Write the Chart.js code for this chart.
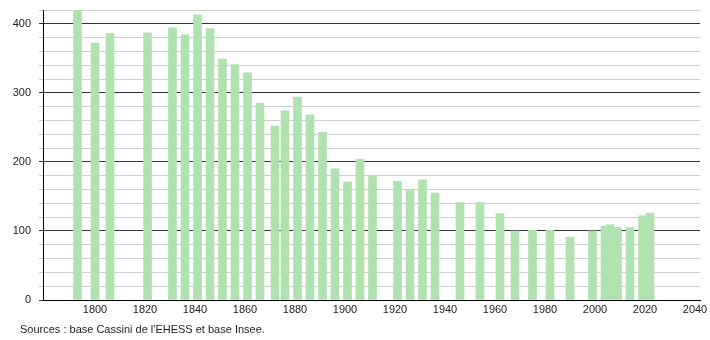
<!DOCTYPE html>
<html>
<head>
<meta charset="utf-8">
<script src="https://cdn.jsdelivr.net/npm/chart.js@4"></script>
<style>
    body { margin: 0; background: #fff; }
    .wrap { position: relative; width: 710px; height: 340px; }
    .source {
        position: absolute;
        left: 20px;
        top: 323px;
        font: 11px "Liberation Sans", Arial, sans-serif;
        color: #222;
    }
</style>
</head>
<body>
<div class="wrap">
    <canvas id="popChart" width="710" height="340"></canvas>
    <div class="source">Sources : base Cassini de l'EHESS et base Insee.</div>
</div>
<script>
// Census years and population
const years = [1793, 1800, 1806, 1821, 1831, 1836, 1841, 1846, 1851, 1856,
    1861, 1866, 1872, 1876, 1881, 1886, 1891, 1896, 1901, 1906,
    1911, 1921, 1926, 1931, 1936, 1946, 1954, 1962, 1968, 1975,
    1982, 1990, 1999, 2004, 2006, 2009, 2014, 2019, 2022];
const population = [420, 372, 386, 387, 394, 384, 413, 393, 349, 341,
    329, 285, 252, 274, 294, 268, 243, 190, 171, 204,
    179, 172, 159, 174, 155, 141, 141, 125, 100, 101,
    101, 91, 100, 107, 109, 105, 105, 122, 126];

// Axis ticks
const xTicks = [1800, 1820, 1840, 1860, 1880, 1900, 1920, 1940, 1960, 1980, 2000, 2020, 2040];
const yLabels = [0, 100, 200, 300, 400];

const font = { family: '"Liberation Sans", Arial, sans-serif', size: 11 };

document.addEventListener('DOMContentLoaded', () => {
    const ctx = document.getElementById('popChart').getContext('2d');

    new Chart(ctx, {
        type: 'bar',
        data: {
            datasets: [{
                data: years.map((y, i) => ({ x: y, y: population[i] })),
                backgroundColor: 'rgb(176, 226, 176)',
                barThickness: 8
            }]
        },
        options: {
            responsive: false,
            animation: false,
            layout: { padding: { top: 10, right: 10, left: 0, bottom: 0 } },
            plugins: {
                legend: { display: false },
                tooltip: { enabled: false }
            },
            scales: {
                x: {
                    type: 'linear',
                    offset: false,
                    min: 1779.2,
                    max: 2042,
                    afterBuildTicks: scale => {
                        scale.ticks = xTicks.map(v => ({ value: v }));
                    },
                    afterFit: scale => {
                        scale.height = 40;
                        scale.paddingLeft = 0;
                        scale.paddingRight = 0;
                    },
                    ticks: {
                        color: '#222',
                        font: font,
                        padding: 3,
                        maxRotation: 0,
                        autoSkip: false,
                        callback: v => String(v)
                    },
                    grid: { display: false, drawTicks: false },
                    border: { color: '#000', width: 1 }
                },
                y: {
                    min: 0,
                    max: 420,
                    afterFit: scale => {
                        scale.width = 43;
                        scale.paddingTop = 0;
                        scale.paddingBottom = 0;
                    },
                    ticks: {
                        stepSize: 20,
                        autoSkip: false,
                        color: '#222',
                        font: font,
                        padding: 8,
                        callback: v => yLabels.includes(v) ? String(v) : ''
                    },
                    grid: {
                        color: c => c.tick && c.tick.value % 100 === 0 ? '#333' : '#cfcfcf',
                        tickLength: 4,
                        lineWidth: 1
                    },
                    border: { color: '#000', width: 1 }
                }
            }
        }
    });
});
</script>
</body>
</html>
